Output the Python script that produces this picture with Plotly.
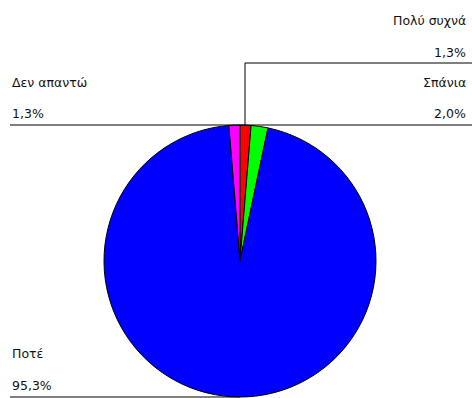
import plotly.graph_objects as go

categories = ["Πολύ συχνά", "Σπάνια", "Ποτέ", "Δεν απαντώ"]
values = [1.3, 2.0, 95.3, 1.3]
colors = ["#FF0000", "#00FF00", "#0000FF", "#FF00FF"]

W, H = 472, 398
cx, cy, r = 240, 261, 136

def pct(v):
    return f"{v:.1f}".replace(".", ",") + "%"

fig = go.Figure()
fig.add_trace(go.Pie(
    labels=categories, values=values, sort=False, direction="clockwise", rotation=0,
    marker=dict(colors=colors, line=dict(color="black", width=1)),
    textinfo="none", hoverinfo="label+percent", showlegend=False,
    domain=dict(x=[(cx - r) / W, (cx + r) / W], y=[(H - cy - r) / H, (H - cy + r) / H]),
))

line = dict(color="black", width=1)
shapes = [
    dict(type="line", x0=245, x1=W, y0=63, y1=63, line=line),
    dict(type="line", x0=245, x1=245, y0=63, y1=125, line=line),
    dict(type="line", x0=245, x1=W, y0=125, y1=125, line=line),
    dict(type="line", x0=10, x1=245, y0=125, y1=125, line=line),
    dict(type="line", x0=10, x1=cx, y0=397, y1=397, line=line),
]
for s in shapes:
    s.update(xref="x", yref="y", layer="above")

# label positions: (x, y_name, y_pct, anchor) per category
label_pos = [
    (468, 20, 52, "right"),
    (468, 82, 113, "right"),
    (10, 353, 385, "left"),
    (10, 82, 113, "left"),
]
font = dict(family="DejaVu Sans, sans-serif", size=12.5, color="#111111")
annotations = []
for cat, v, (x, y1, y2, anc) in zip(categories, values, label_pos):
    annotations.append(dict(x=x, y=y1, text=cat, xref="x", yref="y", xanchor=anc,
                            yanchor="middle", showarrow=False, font=font))
    annotations.append(dict(x=x, y=y2, text=pct(v), xref="x", yref="y", xanchor=anc,
                            yanchor="middle", showarrow=False, font=font))

fig.update_layout(
    width=W, height=H, margin=dict(l=0, r=0, t=0, b=0),
    paper_bgcolor="white", plot_bgcolor="rgba(0,0,0,0)",
    xaxis=dict(range=[0, W], visible=False, fixedrange=True),
    yaxis=dict(range=[H, 0], visible=False, fixedrange=True),
    shapes=shapes, annotations=annotations,
)
fig.write_html("out.html", config=dict(displayModeBar=False),
               post_script="document.body.style.margin='0';document.body.style.overflow='hidden';")
